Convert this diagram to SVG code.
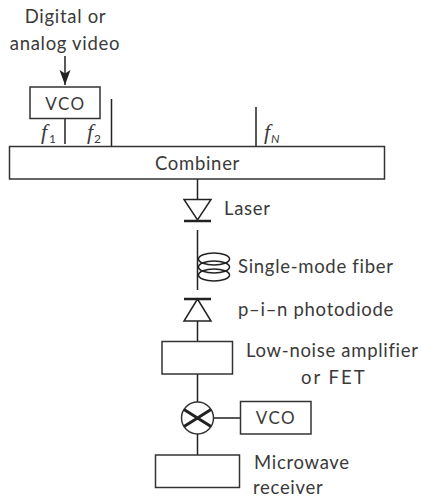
<svg xmlns="http://www.w3.org/2000/svg" width="421" height="499" viewBox="0 0 421 499">
<style>
.b{fill:#fff;stroke:#333;stroke-width:1.500}
.l{fill:none;stroke:#222;stroke-width:1.500}
text{font-family:"Lato","Open Sans",sans-serif;font-size:18.500px;fill:#3a3a3a;letter-spacing:.7px}
.m{text-anchor:middle}
.f{font-family:"Liberation Serif",serif;font-style:italic;font-size:22px;letter-spacing:0}
.s{font-family:"Lato",sans-serif;font-size:12px;letter-spacing:0}
.i{font-style:italic}
.v{letter-spacing:1.500px;font-size:17px}
</style>
<defs><marker id="a" markerWidth="16" markerHeight="12" refX="15" refY="6" orient="auto" markerUnits="userSpaceOnUse"><path d="M0 .5L15 6L0 11.500L3.500 6Z" fill="#222"/></marker></defs>
<rect width="421" height="499" fill="#fff"/>
<g id="connectors" class="l">
<path d="M65 56V85" marker-end="url(#a)"/>
<path d="M65 119V144M111.500 99V146M256 107V146"/>
<path d="M197.500 179V199M197.500 230V290M197.500 321V341M197.500 374V402M197.500 434V455M214 418H240.500"/>
</g>
<g id="label-video"><text class="m" x="65.500" y="23">Digital or</text><text class="m" x="65" y="49.500">analog video</text></g>
<g id="vco1"><rect class="b" x="30" y="87" width="70" height="31.500"/><text class="m v" x="65.500" y="109.500">VCO</text></g>
<g id="f1"><text class="f" x="41" y="139">f</text><text class="s" x="49" y="143">1</text></g>
<g id="f2"><text class="f" x="87" y="139">f</text><text class="s" x="94" y="143">2</text></g>
<g id="fN"><text class="f" x="264" y="139">f</text><text class="s i" x="271" y="143">N</text></g>
<g id="combiner"><rect class="b" x="9.500" y="146.500" width="375" height="32.500"/><text class="m" x="197.500" y="170">Combiner</text></g>
<g id="laser"><path class="l" d="M184 199.500H211L197.500 220Z"/><path d="M184 221H211" stroke="#222" stroke-width="2.500"/><text x="224" y="215">Laser</text></g>
<g id="fiber"><g class="l"><ellipse cx="214" cy="259" rx="15.500" ry="6"/><ellipse cx="214" cy="267" rx="15.500" ry="6"/><ellipse cx="214" cy="275" rx="15.500" ry="6"/></g><text x="238" y="273">Single-mode fiber</text></g>
<g id="photodiode"><path class="l" d="M184 321H211L197.500 299Z"/><path d="M184 299H211" stroke="#222" stroke-width="2.500"/><text x="238" y="316">p–i–n photodiode</text></g>
<g id="lna"><rect class="b" x="162" y="341.500" width="70.500" height="32.500"/><text x="246" y="357">Low-noise amplifier</text><text x="301" y="384" style="letter-spacing:2px">or FET</text></g>
<g id="mixer"><circle class="b" cx="197.500" cy="418" r="16"/><path d="M184 409.500L211 426.500M211 409.500L184 426.500" stroke="#222" stroke-width="3"/></g>
<g id="vco2"><rect class="b" x="240.500" y="401.500" width="70.500" height="32.500"/><text class="m v" x="276" y="424">VCO</text></g>
<g id="receiver"><rect class="b" x="155.500" y="455" width="84" height="32.500"/><text x="254" y="468.500">Microwave</text><text x="253" y="494">receiver</text></g>
</svg>
